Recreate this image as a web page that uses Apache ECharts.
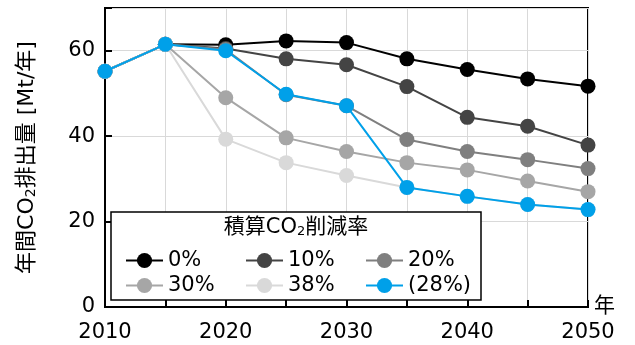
<!DOCTYPE html>
<html>
<head>
<meta charset="utf-8">
<script src="https://cdn.jsdelivr.net/npm/echarts@6/dist/echarts.min.js"></script>
<style>
  html, body { margin: 0; padding: 0; background: #fff; }
  #chart { width: 635px; height: 345px; }
</style>
</head>
<body>
<div id="chart"></div>
<script>
// 年
const years = [2010, 2015, 2020, 2025, 2030, 2035, 2040, 2045, 2050];

// 年間CO2排出量 [Mt/年]（積算CO2削減率ごと）
const r0 = [55.2, 61.5, 61.4, 62.3, 61.9, 58.1, 55.6, 53.4, 51.7];
const r10 = [55.2, 61.5, 60.5, 58.1, 56.7, 51.6, 44.4, 42.3, 37.9];
const r20 = [55.2, 61.5, 60.3, 49.7, 47.1, 39.2, 36.4, 34.5, 32.4];
const r30 = [55.2, 61.5, 49.0, 39.6, 36.4, 33.8, 32.1, 29.5, 27.0];
const r38 = [55.2, 61.5, 39.3, 33.8, 30.8, 28.0, 25.9, 24.0, 22.8];
const r28 = [55.2, 61.5, 60.0, 49.8, 47.1, 28.0, 25.9, 24.0, 22.8];

const seriesNames = ["0%", "10%", "20%", "30%", "38%", "(28%)"];
const seriesData = [r0, r10, r20, r30, r38, r28];
const colors = ["#000000", "#444444", "#7f7f7f", "#a6a6a6", "#d9d9d9", "#00a0e9"];

const font = "'DejaVu Sans', 'Noto Sans CJK JP', sans-serif";

const chart = echarts.init(document.getElementById("chart"));

let series = seriesData.map((arr, i) => ({
  name: seriesNames[i],
  type: "line",
  data: years.map((y, j) => [y, arr[j]]),
  symbol: "circle",
  symbolSize: 15,
  color: colors[i],
  lineStyle: { width: 2, color: colors[i] },
  itemStyle: { color: colors[i] },
  z: 2 + i * 0.1,
}));

// 凡例（3列）
const legendBase = {
  orient: "vertical",
  top: 243,
  itemWidth: 37,
  itemHeight: 19,
  itemGap: 0,
  textStyle: { fontFamily: font, fontSize: 21, color: "#000", lineHeight: 25 },
  z: 6,
};

let option = {
  animation: false,
  grid: {
    left: 105,
    right: 47,
    top: 8,
    bottom: 38,
    show: true,
    borderColor: "#000",
    borderWidth: 2,
  },
  xAxis: {
    type: "value",
    min: 2010,
    max: 2050,
    interval: 5,
    name: "年",
    nameLocation: "end",
    nameGap: 6,
    nameTextStyle: { fontFamily: font, fontSize: 21, color: "#000", padding: [0, 0, 10, 0] },
    axisLine: { lineStyle: { color: "#000", width: 2 } },
    axisTick: { inside: true, length: 7, lineStyle: { color: "#000", width: 2 } },
    axisLabel: {
      fontFamily: font,
      fontSize: 21,
      color: "#000",
      margin: 15,
      formatter: (v) => (v % 10 === 0 ? String(v) : ""),
    },
    splitLine: { show: true, lineStyle: { color: "#d9d9d9", width: 1 } },
  },
  yAxis: {
    type: "value",
    min: 0,
    max: 70,
    interval: 20,
    name: "{a|年間CO}{s|2}{a|排出量 [Mt/年]}",
    nameLocation: "middle",
    nameGap: 67,
    nameRotate: 90,
    nameTextStyle: {
      rich: {
        a: { fontFamily: font, fontSize: 22, color: "#000" },
        s: { fontFamily: font, fontSize: 14, color: "#000", verticalAlign: "bottom" },
      },
    },
    axisLine: { show: true, lineStyle: { color: "#000", width: 2 } },
    axisTick: { show: true, inside: true, length: 7, lineStyle: { color: "#000", width: 2 } },
    axisLabel: {
      fontFamily: font,
      fontSize: 21,
      color: "#000",
      margin: 10,
      formatter: (v) => (v % 20 === 0 ? String(v) : ""),
    },
    splitLine: { show: true, lineStyle: { color: "#d9d9d9", width: 1 } },
  },
  legend: [
    Object.assign({}, legendBase, { left: 120, data: ["0%", "30%"] }),
    Object.assign({}, legendBase, { left: 240, data: ["10%", "38%"] }),
    Object.assign({}, legendBase, { left: 360, data: ["20%", "(28%)"] }),
  ],
  graphic: [
    {
      // 凡例の枠
      type: "rect",
      z: 3,
      shape: { x: 111, y: 212, width: 370, height: 88 },
      style: { fill: "#fff", stroke: "#000", lineWidth: 1.5 },
    },
    {
      // 凡例タイトル
      type: "text",
      z: 5,
      x: 296,
      y: 228,
      style: {
        text: "{a|積算CO}{s|2}{a|削減率}",
        align: "center",
        verticalAlign: "middle",
        rich: {
          a: { fontFamily: font, fontSize: 21, fill: "#000" },
          s: { fontFamily: font, fontSize: 13, fill: "#000", verticalAlign: "bottom" },
        },
      },
    },
  ],
  series: series,
};

chart.setOption(option);
</script>
</body>
</html>
